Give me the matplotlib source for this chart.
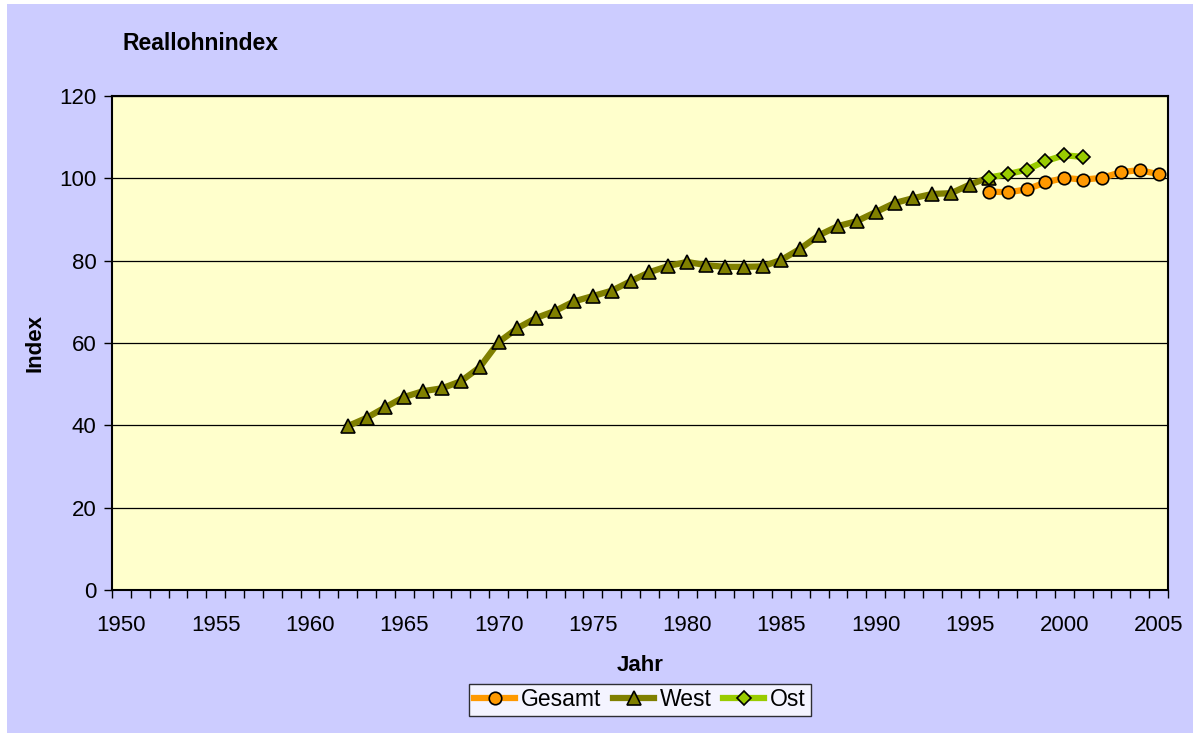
import numpy as np
import matplotlib.pyplot as plt
from matplotlib.patches import Rectangle

plt.rcParams['font.family'] = ['Liberation Sans', 'DejaVu Sans']

# Reallohnindex data
years_west = list(range(1962, 1997))
west = [39.8, 41.8, 44.4, 46.9, 48.3, 49.0, 50.7, 54.1, 60.2, 63.6,
        66.1, 67.8, 70.1, 71.4, 72.7, 75.0, 77.2, 78.7, 79.7, 78.9,
        78.5, 78.5, 78.6, 80.2, 82.9, 86.2, 88.4, 89.6, 91.8, 94.0,
        95.2, 96.2, 96.4, 98.5, 100.2]

years_ost = list(range(1996, 2002))
ost = [100.2, 101.0, 102.1, 104.2, 105.6, 105.2]

years_gesamt = list(range(1996, 2006))
gesamt = [96.8, 96.6, 97.3, 99.0, 100.1, 99.7, 100.1, 101.5, 102.0, 101.0]

label_years = list(range(1950, 2006, 5))

fig = plt.figure(figsize=(12, 7.38), dpi=100)
fig.patch.set_facecolor('white')
fig.patches.append(Rectangle((7 / 1200, 5 / 738), 1186 / 1200, 729 / 738,
                             transform=fig.transFigure, facecolor='#CCCCFF',
                             edgecolor='none', zorder=-10))

ax = fig.add_axes([112 / 1200, 148 / 738, 1056 / 1200, 494 / 738])
ax.set_facecolor('#FFFFCC')

ax.plot(years_gesamt, gesamt, color='#FF9900', lw=4.5, marker='o', ms=9,
        mfc='#FF9900', mec='black', mew=1.2, label='Gesamt', zorder=3)
ax.plot(years_west, west, color='#808000', lw=4.5, marker='^', ms=10,
        mfc='#808000', mec='black', mew=1.2, label='West', zorder=3)
ax.plot(years_ost, ost, color='#99CC00', lw=4.5, marker='D', ms=7.5,
        mfc='#99CC00', mec='black', mew=1.2, label='Ost', zorder=4)

ax.set_xlim(1949.5, 2005.5)
ax.set_ylim(0, 120)
ax.set_yticks(range(0, 121, 20))
ax.yaxis.grid(True, color='black', lw=0.9)
ax.set_axisbelow(True)

ax.set_xticks(label_years)
ax.set_xticks(np.arange(1949.5, 2006, 1), minor=True)
ax.tick_params(axis='x', which='major', length=0, pad=18, labelsize=16)
ax.tick_params(axis='x', which='minor', length=6, width=1, direction='out')
ax.tick_params(axis='y', length=6, width=1, labelsize=16, pad=5)

for s in ax.spines.values():
    s.set_linewidth(1.5)
    s.set_color('black')

ax.set_xlabel('Jahr', fontsize=16, fontweight='bold', labelpad=14)
ax.set_ylabel('Index', fontsize=16, fontweight='bold', labelpad=10)

fig.text(123 / 1200, 1 - 43 / 738, 'Reallohnindex', fontsize=16.5,
         fontweight='bold', va='center', ha='left')

leg = fig.legend(loc='center', bbox_to_anchor=(640 / 1200, 1 - 700 / 738),
                 ncol=3, fontsize=16.5, frameon=True, fancybox=False,
                 handlelength=1.8, handletextpad=0.25, columnspacing=0.5,
                 borderpad=0.2, borderaxespad=0)
leg.get_frame().set_edgecolor('black')
leg.get_frame().set_linewidth(1)

fig.savefig('out.png', dpi=100, facecolor=fig.get_facecolor())
